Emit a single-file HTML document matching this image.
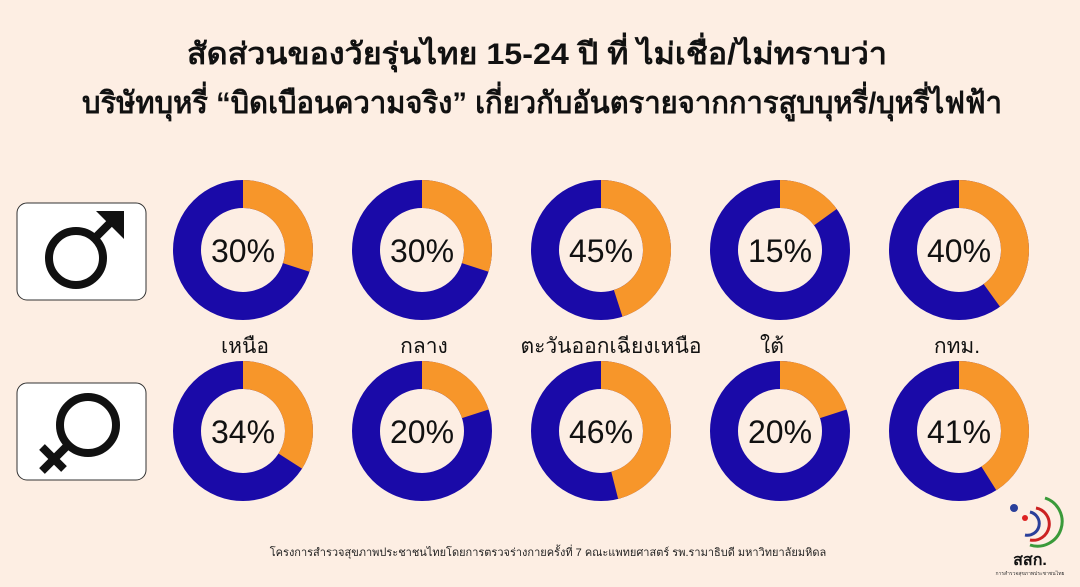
<!DOCTYPE html>
<html><head><meta charset="utf-8"><style>
body{margin:0;width:1080px;height:582px;background:#fdeee3;overflow:hidden;font-family:"Liberation Sans","Noto Sans CJK SC",sans-serif}
</style></head><body>
<svg width="1080" height="582" xmlns="http://www.w3.org/2000/svg" font-family="Liberation Sans, Noto Sans CJK SC, sans-serif">
<rect width="1080" height="582" fill="#fdeee3"/>
<text x="537" y="64" text-anchor="middle" font-size="30" font-weight="bold" fill="#111" textLength="700" lengthAdjust="spacingAndGlyphs">สัดส่วนของวัยรุ่นไทย 15-24 ปี ที่ ไม่เชื่อ/ไม่ทราบว่า</text>
<text x="542" y="113" text-anchor="middle" font-size="30" font-weight="bold" fill="#111" textLength="920" lengthAdjust="spacingAndGlyphs">บริษัทบุหรี่ “บิดเบือนความจริง” เกี่ยวกับอันตรายจากการสูบบุหรี่/บุหรี่ไฟฟ้า</text>
<rect x="17" y="203" width="129" height="97" rx="10" fill="#fff" stroke="#333" stroke-width="1"/>
<rect x="17" y="383" width="129" height="97" rx="10" fill="#fff" stroke="#333" stroke-width="1"/>
<circle cx="76" cy="258" r="27" fill="none" stroke="#111" stroke-width="8"/>
<line x1="94" y1="239" x2="118" y2="215" stroke="#111" stroke-width="8"/>
<polygon points="96,211 124,211 124,239 116,231 104,219" fill="#111"/>
<circle cx="88" cy="425" r="28" fill="none" stroke="#111" stroke-width="8"/>
<line x1="68" y1="445" x2="42" y2="471" stroke="#111" stroke-width="8"/>
<line x1="42" y1="447" x2="64" y2="469" stroke="#111" stroke-width="8"/>
<g fill="none" stroke-width="28">
<circle cx="243" cy="250" r="56" stroke="#1a0aa8"/><circle cx="243" cy="250" r="56" stroke="#f7962a" stroke-dasharray="105.6 400" transform="rotate(-90 243 250)"/>
<circle cx="422" cy="250" r="56" stroke="#1a0aa8"/><circle cx="422" cy="250" r="56" stroke="#f7962a" stroke-dasharray="105.6 400" transform="rotate(-90 422 250)"/>
<circle cx="601" cy="250" r="56" stroke="#1a0aa8"/><circle cx="601" cy="250" r="56" stroke="#f7962a" stroke-dasharray="158.3 400" transform="rotate(-90 601 250)"/>
<circle cx="780" cy="250" r="56" stroke="#1a0aa8"/><circle cx="780" cy="250" r="56" stroke="#f7962a" stroke-dasharray="52.8 400" transform="rotate(-90 780 250)"/>
<circle cx="959" cy="250" r="56" stroke="#1a0aa8"/><circle cx="959" cy="250" r="56" stroke="#f7962a" stroke-dasharray="140.7 400" transform="rotate(-90 959 250)"/>
<circle cx="243" cy="431" r="56" stroke="#1a0aa8"/><circle cx="243" cy="431" r="56" stroke="#f7962a" stroke-dasharray="119.6 400" transform="rotate(-90 243 431)"/>
<circle cx="422" cy="431" r="56" stroke="#1a0aa8"/><circle cx="422" cy="431" r="56" stroke="#f7962a" stroke-dasharray="70.4 400" transform="rotate(-90 422 431)"/>
<circle cx="601" cy="431" r="56" stroke="#1a0aa8"/><circle cx="601" cy="431" r="56" stroke="#f7962a" stroke-dasharray="161.9 400" transform="rotate(-90 601 431)"/>
<circle cx="780" cy="431" r="56" stroke="#1a0aa8"/><circle cx="780" cy="431" r="56" stroke="#f7962a" stroke-dasharray="70.4 400" transform="rotate(-90 780 431)"/>
<circle cx="959" cy="431" r="56" stroke="#1a0aa8"/><circle cx="959" cy="431" r="56" stroke="#f7962a" stroke-dasharray="144.3 400" transform="rotate(-90 959 431)"/>
</g>
<g font-size="32" text-anchor="middle" fill="#111">
<text x="243" y="262">30%</text><text x="422" y="262">30%</text><text x="601" y="262">45%</text><text x="780" y="262">15%</text><text x="959" y="262">40%</text>
<text x="243" y="443">34%</text><text x="422" y="443">20%</text><text x="601" y="443">46%</text><text x="780" y="443">20%</text><text x="959" y="443">41%</text>
</g>
<g font-size="21" text-anchor="middle" fill="#111">
<text x="245" y="353">เหนือ</text><text x="424" y="353">กลาง</text><text x="611" y="353">ตะวันออกเฉียงเหนือ</text><text x="772" y="353">ใต้</text><text x="957" y="353">กทม.</text>
</g>
<text x="548" y="556" text-anchor="middle" font-size="11" fill="#222">โครงการสำรวจสุขภาพประชาชนไทยโดยการตรวจร่างกายครั้งที่ 7 คณะแพทยศาสตร์ รพ.รามาธิบดี มหาวิทยาลัยมหิดล</text>
<g fill="none" stroke-width="3">
<path d="M1045 498 A22 22 0 0 1 1030 545" stroke="#3a9a3a"/>
<path d="M1036 508 A16 16 0 0 1 1030 540" stroke="#c22"/>
<path d="M1030 512 A11 11 0 0 1 1025 535" stroke="#2a3f9a"/>
</g>
<circle cx="1014" cy="508" r="4" fill="#2a3f9a"/>
<circle cx="1025" cy="518" r="3" fill="#d22"/>
<text x="1030" y="565" text-anchor="middle" font-size="16" font-weight="bold" fill="#111">สสก.</text>
<text x="1030" y="575" text-anchor="middle" font-size="5" fill="#333">การสำรวจสุขภาพประชาชนไทย</text>
</svg>
</body></html>
